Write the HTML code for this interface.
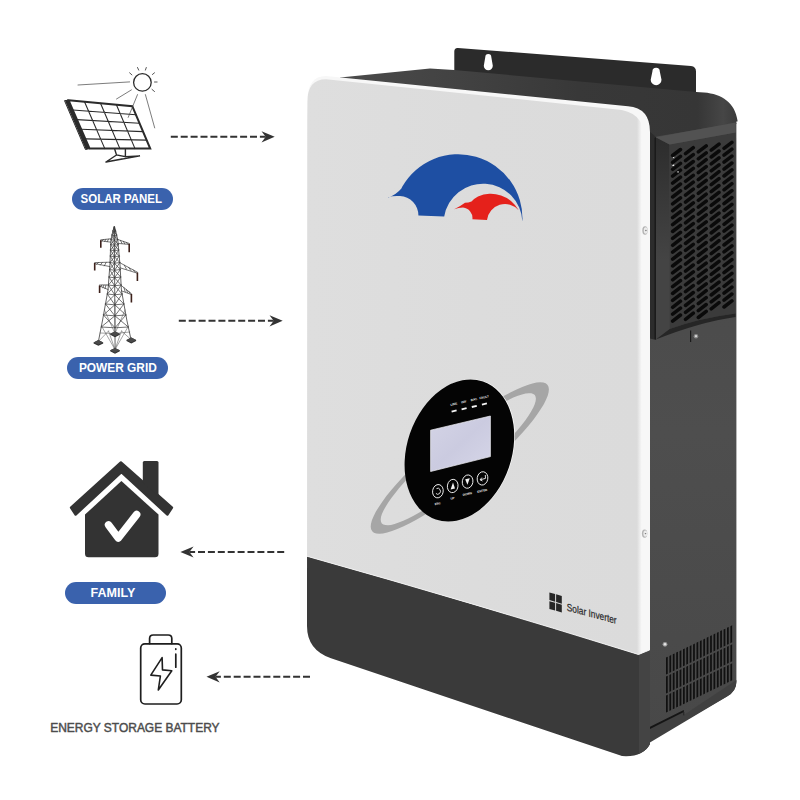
<!DOCTYPE html>
<html lang="en"><head><meta charset="utf-8"><title>Solar Inverter</title>
<style>
html,body{margin:0;padding:0;background:#fff;}
body{width:800px;height:800px;overflow:hidden;font-family:"Liberation Sans",sans-serif;}
svg{display:block;}
text{font-family:"Liberation Sans",sans-serif;}
</style></head><body>
<svg width="800" height="800" viewBox="0 0 800 800">
<defs>
<linearGradient id="gPanel" gradientUnits="userSpaceOnUse" x1="307" y1="0" x2="644" y2="0"><stop offset="0" stop-color="#dedede"/><stop offset="0.5" stop-color="#dcdcdc"/><stop offset="0.979" stop-color="#dbdbdb"/><stop offset="0.993" stop-color="#f7f7f7"/><stop offset="1" stop-color="#f7f7f7"/></linearGradient>
<linearGradient id="gSide" x1="0" y1="0" x2="0" y2="1"><stop offset="0" stop-color="#484848"/><stop offset="0.5" stop-color="#4e4e4e"/><stop offset="1" stop-color="#484848"/></linearGradient>
<linearGradient id="gTop" gradientUnits="userSpaceOnUse" x1="340" y1="0" x2="737" y2="0"><stop offset="0" stop-color="#4b4b4b"/><stop offset="0.3" stop-color="#424242"/><stop offset="0.6" stop-color="#383838"/><stop offset="0.9" stop-color="#363636"/><stop offset="0.965" stop-color="#464646"/><stop offset="1" stop-color="#3b3b3b"/></linearGradient>
<linearGradient id="gLeftFace" gradientUnits="userSpaceOnUse" x1="0" y1="140" x2="0" y2="260"><stop offset="0" stop-color="#2d2d2d"/><stop offset="1" stop-color="#444"/></linearGradient>
<linearGradient id="gLcd" x1="0" y1="0" x2="1" y2="1"><stop offset="0" stop-color="#d4d4e6"/><stop offset="0.5" stop-color="#cbcbe0"/><stop offset="1" stop-color="#d6d6e8"/></linearGradient>
<clipPath id="cFront"><path d="M307.3,101.5 Q307.3,76 326,76 L628,106.3 Q650,108 650,132 L650,744 Q643,757.5 622,756 L331,658.3 Q307,650 307,626 Z"/></clipPath>
</defs>
<rect width="800" height="800" fill="#fff"/>

<g id="inverter">
<path d="M454.3,51.5 Q454.3,47.6 458,47.9 L691,66 Q696,66.5 696,71.5 L696,96 L454.3,74 Z" fill="#2b2b2b"/>
<path d="M485.3,57.0 A3.0,3.0 0 0 1 491.3,57.0 L492.8,65.7 A4.5,4.5 0 0 1 483.8,65.7 Z" fill="#fff"/>
<path d="M652.4,71.5 A3.7,3.7 0 0 1 659.8000000000001,71.5 L661.5,79.8 A5.4,5.4 0 0 1 650.7,79.8 Z" fill="#fff"/>
<path d="M340,77.4 L430,68.5 L454,70 L696,92 L704,92.6 C722,94 735,103 737.5,120.5 L737.5,121.5 L736.4,121.6 L736.4,124 L653,139 L640,139 L620,120 L345,92 Z" fill="url(#gTop)"/>
<path d="M648,138 L736.4,123 L736.4,682 Q736.4,691 727,696.6 L648,742 Z" fill="url(#gSide)"/>
<path d="M648,130 L656,137 L656,340 L648,338 Z" fill="#2c2c2c"/>
<path d="M655.8,137.2 L669.6,144.6 L669.6,329 L655.8,339.5 Z" fill="url(#gLeftFace)"/>
<path d="M654.6,138 L655.8,137.2 L655.8,339.5 L654.6,339 Z" fill="#161616"/>
<path d="M669.6,144.6 L735.6,132.6 L735.6,313.5 Q700,318 669.6,329 Z" fill="#3b3b3b"/>
<path d="M655.8,137.2 L735.6,122.6 L735.6,132.6 L669.6,144.6 Z" fill="#525252"/>
<path d="M655.8,339.5 L669.6,329 Q700,318 735.6,313.5 L735.6,317 Q700,322 655.8,339.5 Z" fill="#262626"/>
<path d="M672.6,155.5 L680.5,149.5 M672.6,162.4 L680.5,156.4 M672.6,169.3 L680.5,163.3 M672.6,176.2 L680.5,170.2 M672.6,183.2 L680.5,177.1 M672.6,190.1 L680.5,184.0 M672.6,197.0 L680.5,190.9 M672.6,203.9 L680.5,197.8 M672.6,210.8 L680.5,204.7 M672.6,217.7 L680.5,211.6 M672.6,224.6 L680.5,218.5 M672.6,231.5 L680.5,225.4 M672.6,238.4 L680.5,232.3 M672.6,245.3 L680.5,239.2 M672.6,252.2 L680.5,246.1 M672.6,259.1 L680.5,253.0 M672.6,266.0 L680.5,259.9 M672.6,272.9 L680.5,266.8 M672.6,279.8 L680.5,273.7 M672.6,286.6 L680.5,280.6 M672.6,293.5 L680.5,287.4 M672.6,300.4 L680.5,294.3 M672.6,307.3 L680.5,301.2 M672.6,314.2 L680.5,308.1 M672.6,321.1 L680.5,315.0 M685.5,153.7 L693.3,147.7 M685.5,160.6 L693.3,154.6 M685.5,167.5 L693.3,161.5 M685.5,174.4 L693.3,168.4 M685.5,181.3 L693.3,175.3 M685.5,188.2 L693.3,182.2 M685.5,195.2 L693.3,189.1 M685.5,202.1 L693.3,196.0 M685.5,209.0 L693.3,202.9 M685.5,215.9 L693.3,209.8 M685.5,222.8 L693.3,216.7 M685.5,229.7 L693.3,223.6 M685.5,236.6 L693.3,230.5 M685.5,243.5 L693.3,237.4 M685.5,250.4 L693.3,244.3 M685.5,257.3 L693.3,251.2 M685.5,264.2 L693.3,258.1 M685.5,271.1 L693.3,265.0 M685.5,277.9 L693.3,271.9 M685.5,284.8 L693.3,278.8 M685.5,291.7 L693.3,285.6 M685.5,298.6 L693.3,292.5 M685.5,305.5 L693.3,299.4 M685.5,312.4 L693.3,306.3 M685.5,319.3 L693.3,313.2 M698.3,151.9 L706.2,145.9 M698.3,158.8 L706.2,152.8 M698.3,165.8 L706.2,159.7 M698.3,172.7 L706.2,166.6 M698.3,179.6 L706.2,173.5 M698.3,186.5 L706.2,180.4 M698.3,193.4 L706.2,187.3 M698.3,200.3 L706.2,194.2 M698.3,207.2 L706.2,201.1 M698.3,214.1 L706.2,208.0 M698.3,221.0 L706.2,214.9 M698.3,227.9 L706.2,221.8 M698.3,234.8 L706.2,228.7 M698.3,241.7 L706.2,235.6 M698.3,248.6 L706.2,242.5 M698.3,255.5 L706.2,249.4 M698.3,262.4 L706.2,256.3 M698.3,269.2 L706.2,263.2 M698.3,276.1 L706.2,270.1 M698.3,283.0 L706.2,276.9 M698.3,289.9 L706.2,283.8 M698.3,296.8 L706.2,290.7 M698.3,303.7 L706.2,297.6 M698.3,310.6 L706.2,304.5 M698.3,317.5 L706.2,311.4 M711.2,150.1 L719.0,144.1 M711.2,157.0 L719.0,151.0 M711.2,163.9 L719.0,157.9 M711.2,170.8 L719.0,164.8 M711.2,177.8 L719.0,171.7 M711.2,184.7 L719.0,178.6 M711.2,191.6 L719.0,185.5 M711.2,198.5 L719.0,192.4 M711.2,205.4 L719.0,199.3 M711.2,212.3 L719.0,206.2 M711.2,219.2 L719.0,213.1 M711.2,226.1 L719.0,220.0 M711.2,233.0 L719.0,226.9 M711.2,239.9 L719.0,233.8 M711.2,246.8 L719.0,240.7 M711.2,253.7 L719.0,247.6 M711.2,260.6 L719.0,254.5 M711.2,267.5 L719.0,261.4 M711.2,274.4 L719.0,268.3 M711.2,281.2 L719.0,275.2 M711.2,288.1 L719.0,282.1 M711.2,295.0 L719.0,288.9 M711.2,301.9 L719.0,295.8 M711.2,308.8 L719.0,302.7 M724.0,148.3 L731.9,142.3 M724.0,155.2 L731.9,149.2 M724.0,162.2 L731.9,156.1 M724.0,169.1 L731.9,163.0 M724.0,176.0 L731.9,169.9 M724.0,182.9 L731.9,176.8 M724.0,189.8 L731.9,183.7 M724.0,196.7 L731.9,190.6 M724.0,203.6 L731.9,197.5 M724.0,210.5 L731.9,204.4 M724.0,217.4 L731.9,211.3 M724.0,224.3 L731.9,218.2 M724.0,231.2 L731.9,225.1 M724.0,238.1 L731.9,232.0 M724.0,245.0 L731.9,238.9 M724.0,251.9 L731.9,245.8 M724.0,258.8 L731.9,252.7 M724.0,265.7 L731.9,259.6 M724.0,272.6 L731.9,266.5 M724.0,279.4 L731.9,273.4 M724.0,286.3 L731.9,280.2 M724.0,293.2 L731.9,287.1 M724.0,300.1 L731.9,294.0 M724.0,307.0 L731.9,300.9 " stroke="#0a0a0a" stroke-width="3.5" stroke-linecap="round" fill="none"/>
<path d="M672.6,157.6 l1.6,-0.8 l0,1.6 z M671.8,165.4 l2.4,-1.2 l0,2 z M676.6,172 l2,-1 l0,1.8 z" fill="#f4f4f4"/>
<path d="M690.6,330.5 L690.6,342" stroke="#1a1a1a" stroke-width="1.2"/>
<circle cx="696" cy="336.2" r="2.3" fill="#8a8a8a"/><circle cx="696" cy="336.2" r="1.1" fill="#d8d8d8"/>
<path d="M666.0,657.6 l1.75,-0.85 l0,17 l-1.75,0.85 Z M666.0,676.6 l1.75,-0.85 l0,17 l-1.75,0.85 Z M666.0,695.6 l1.75,-0.85 l0,17 l-1.75,0.85 Z M669.4,655.9 l1.75,-0.85 l0,17 l-1.75,0.85 Z M669.4,674.9 l1.75,-0.85 l0,17 l-1.75,0.85 Z M669.4,693.9 l1.75,-0.85 l0,17 l-1.75,0.85 Z M672.8,654.3 l1.75,-0.85 l0,17 l-1.75,0.85 Z M672.8,673.3 l1.75,-0.85 l0,17 l-1.75,0.85 Z M672.8,692.3 l1.75,-0.85 l0,17 l-1.75,0.85 Z M676.2,652.6 l1.75,-0.85 l0,17 l-1.75,0.85 Z M676.2,671.6 l1.75,-0.85 l0,17 l-1.75,0.85 Z M676.2,690.6 l1.75,-0.85 l0,17 l-1.75,0.85 Z M679.6,651.0 l1.75,-0.85 l0,17 l-1.75,0.85 Z M679.6,670.0 l1.75,-0.85 l0,17 l-1.75,0.85 Z M679.6,689.0 l1.75,-0.85 l0,17 l-1.75,0.85 Z M683.0,649.3 l1.75,-0.85 l0,17 l-1.75,0.85 Z M683.0,668.3 l1.75,-0.85 l0,17 l-1.75,0.85 Z M683.0,687.3 l1.75,-0.85 l0,17 l-1.75,0.85 Z M686.3,647.7 l1.75,-0.85 l0,17 l-1.75,0.85 Z M686.3,666.7 l1.75,-0.85 l0,17 l-1.75,0.85 Z M686.3,685.7 l1.75,-0.85 l0,17 l-1.75,0.85 Z M689.7,646.0 l1.75,-0.85 l0,17 l-1.75,0.85 Z M689.7,665.0 l1.75,-0.85 l0,17 l-1.75,0.85 Z M689.7,684.0 l1.75,-0.85 l0,17 l-1.75,0.85 Z M693.1,644.4 l1.75,-0.85 l0,17 l-1.75,0.85 Z M693.1,663.4 l1.75,-0.85 l0,17 l-1.75,0.85 Z M693.1,682.4 l1.75,-0.85 l0,17 l-1.75,0.85 Z M696.5,642.7 l1.75,-0.85 l0,17 l-1.75,0.85 Z M696.5,661.7 l1.75,-0.85 l0,17 l-1.75,0.85 Z M696.5,680.7 l1.75,-0.85 l0,17 l-1.75,0.85 Z M699.9,641.1 l1.75,-0.85 l0,17 l-1.75,0.85 Z M699.9,660.1 l1.75,-0.85 l0,17 l-1.75,0.85 Z M699.9,679.1 l1.75,-0.85 l0,17 l-1.75,0.85 Z M703.3,639.4 l1.75,-0.85 l0,17 l-1.75,0.85 Z M703.3,658.4 l1.75,-0.85 l0,17 l-1.75,0.85 Z M703.3,677.4 l1.75,-0.85 l0,17 l-1.75,0.85 Z M706.7,637.7 l1.75,-0.85 l0,17 l-1.75,0.85 Z M706.7,656.7 l1.75,-0.85 l0,17 l-1.75,0.85 Z M706.7,675.7 l1.75,-0.85 l0,17 l-1.75,0.85 Z M710.1,636.1 l1.75,-0.85 l0,17 l-1.75,0.85 Z M710.1,655.1 l1.75,-0.85 l0,17 l-1.75,0.85 Z M710.1,674.1 l1.75,-0.85 l0,17 l-1.75,0.85 Z M713.5,634.4 l1.75,-0.85 l0,17 l-1.75,0.85 Z M713.5,653.4 l1.75,-0.85 l0,17 l-1.75,0.85 Z M713.5,672.4 l1.75,-0.85 l0,17 l-1.75,0.85 Z M716.9,632.8 l1.75,-0.85 l0,17 l-1.75,0.85 Z M716.9,651.8 l1.75,-0.85 l0,17 l-1.75,0.85 Z M716.9,670.8 l1.75,-0.85 l0,17 l-1.75,0.85 Z M720.2,631.1 l1.75,-0.85 l0,17 l-1.75,0.85 Z M720.2,650.1 l1.75,-0.85 l0,17 l-1.75,0.85 Z M720.2,669.1 l1.75,-0.85 l0,17 l-1.75,0.85 Z M723.6,629.5 l1.75,-0.85 l0,17 l-1.75,0.85 Z M723.6,648.5 l1.75,-0.85 l0,17 l-1.75,0.85 Z M723.6,667.5 l1.75,-0.85 l0,17 l-1.75,0.85 Z M727.0,627.8 l1.75,-0.85 l0,17 l-1.75,0.85 Z M727.0,646.8 l1.75,-0.85 l0,17 l-1.75,0.85 Z M727.0,665.8 l1.75,-0.85 l0,17 l-1.75,0.85 Z M730.4,626.2 l1.75,-0.85 l0,17 l-1.75,0.85 Z M730.4,645.2 l1.75,-0.85 l0,17 l-1.75,0.85 Z M730.4,664.2 l1.75,-0.85 l0,17 l-1.75,0.85 Z " fill="#101010"/>
<circle cx="665" cy="644.3" r="2.4" fill="#9a9a9a"/><circle cx="665" cy="644.3" r="1.2" fill="#e6e6e6"/>
<path d="M648,728 L683.8,710.2 L683.8,715 L736.4,680 L736.4,682 Q736.4,691 727,696.6 L634,752 L648,742 Z" fill="#404040"/>
<path d="M648.6,727.6 L683.8,710 L683.8,712 L649,729.4 Z" fill="#151515"/>
<path d="M683.8,712 L683.8,715.4" stroke="#1c1c1c" stroke-width="0.8"/>
<g clip-path="url(#cFront)">
<rect x="300" y="545" width="360" height="230" fill="#3a3a3a"/>
<rect x="639" y="600" width="12" height="170" fill="#444"/>
<path d="M300,70 L660,70 L650,650 L638.5,654.5 Q470,602 307,556.25 L300,556 Z" fill="#f7f7f7"/>
<path d="M307.3,102 Q307.3,79.2 326,79.2 L615,109.2 Q644,111 644,137 L644,652.3 L638.5,654.5 Q470,602 307,556.25 L300,556 Z" fill="url(#gPanel)"/>
<path d="M307,556.25 Q470,602 638.5,654.5 L649.5,650" fill="none" stroke="#f4f4f4" stroke-width="0.9"/>
</g>
<ellipse cx="645" cy="230.5" rx="2.7" ry="4.2" fill="#b4b4b4"/><ellipse cx="645.7" cy="230.5" rx="1.9" ry="3.2" fill="#ececec"/><ellipse cx="645.9" cy="230.5" rx="0.8" ry="0.7" fill="#777"/>
<ellipse cx="644.6" cy="533.6" rx="2.7" ry="4.2" fill="#b4b4b4"/><ellipse cx="645.3000000000001" cy="533.6" rx="1.9" ry="3.2" fill="#ececec"/><ellipse cx="645.5" cy="533.6" rx="0.8" ry="0.7" fill="#777"/>
</g>
<g id="logo">
<path d="M388.4,197.5 Q396.5,194.2 401.4,188.4 L402.2,186.8 A64.3,64.3 0 0 1 522.4,221.5 A39.38,39.38 0 0 0 444.2,216.6 L418.4,215.5 A19.3,19.3 0 0 0 400,196.1 Q393.5,195.6 388,197.2 Z" fill="#1e4fa3"/>
<path d="M454.2,209.3 Q460,206.4 465,202.7 Q468.5,202.7 471.5,201.4 Q474,198.5 478,196.4 A31.9,31.9 0 0 1 518.7,210.2 A18.2,18.2 0 0 0 487,220 L472.4,219.3 A10.5,10.5 0 0 0 463,207.6 Q458.5,207.6 454.2,209.3 Z" fill="#e5211b"/>
</g>
<g id="display">
<path d="M547.4,384.7 L548.5,386.7 L548.9,389.2 L548.6,392.2 L547.7,395.8 L546.0,399.8 L543.8,404.2 L540.8,409.1 L537.3,414.3 L533.2,419.9 L528.5,425.7 L523.3,431.8 L517.6,438.1 L511.5,444.6 L505.0,451.1 L498.1,457.7 L490.9,464.3 L483.5,470.9 L476.0,477.3 L468.3,483.6 L460.5,489.8 L452.7,495.6 L445.0,501.2 L437.4,506.5 L430.0,511.4 L422.8,515.9 L415.9,519.9 L409.3,523.5 L403.1,526.5 L397.3,529.1 L392.0,531.1 L387.2,532.6 L383.0,533.4 L379.4,533.8 L376.3,533.5 L373.9,532.7 L372.2,531.3 L371.1,529.3 L370.7,526.8 L371.0,523.8 L371.9,520.2 L373.6,516.2 L375.8,511.8 L378.8,506.9 L382.3,501.7 L386.4,496.1 L391.1,490.3 L396.3,484.2 L402.0,477.9 L408.1,471.4 L414.6,464.9 L421.5,458.3 L428.7,451.7 L436.1,445.1 L443.6,438.7 L451.3,432.4 L459.1,426.2 L466.9,420.4 L474.6,414.8 L482.2,409.5 L489.6,404.6 L496.8,400.1 L503.7,396.1 L510.3,392.5 L516.5,389.5 L522.3,386.9 L527.6,384.9 L532.4,383.4 L536.6,382.6 L540.2,382.2 L543.3,382.5 L545.7,383.3 Z M534.8,395.0 L535.6,396.7 L535.9,398.8 L535.6,401.3 L534.7,404.3 L533.2,407.7 L531.1,411.5 L528.5,415.7 L525.4,420.2 L521.7,425.0 L517.6,430.1 L513.0,435.3 L508.0,440.8 L502.6,446.4 L496.9,452.1 L490.9,457.8 L484.6,463.6 L478.2,469.3 L471.5,475.0 L464.8,480.5 L458.1,485.9 L451.3,491.0 L444.6,496.0 L438.0,500.6 L431.5,504.9 L425.3,508.9 L419.3,512.5 L413.6,515.7 L408.2,518.5 L403.3,520.8 L398.7,522.6 L394.6,524.0 L391.0,524.9 L387.9,525.2 L385.3,525.1 L383.3,524.5 L381.8,523.4 L381.0,521.7 L380.7,519.6 L381.0,517.1 L381.9,514.1 L383.4,510.7 L385.5,506.9 L388.1,502.7 L391.2,498.2 L394.9,493.4 L399.0,488.3 L403.6,483.1 L408.6,477.6 L414.0,472.0 L419.7,466.3 L425.7,460.6 L432.0,454.8 L438.4,449.1 L445.1,443.4 L451.8,437.9 L458.5,432.5 L465.3,427.4 L472.0,422.4 L478.6,417.8 L485.1,413.5 L491.3,409.5 L497.3,405.9 L503.0,402.7 L508.4,399.9 L513.3,397.6 L517.9,395.8 L522.0,394.4 L525.6,393.5 L528.7,393.2 L531.3,393.3 L533.3,393.9 Z" fill="#a6a6a6" fill-rule="evenodd"/>
<ellipse cx="460.2" cy="450.3" rx="52.3" ry="72.9" transform="rotate(18.9 460.2 450.3)" fill="#fafafa"/>
<ellipse cx="459.4" cy="450.5" rx="52.3" ry="72.9" transform="rotate(18.9 459.4 450.5)" fill="#040404"/>
<path d="M430.6,430.2 L490.4,416 L490.4,456.6 L430.6,471.5 Z" fill="url(#gLcd)" stroke="#f0f0f6" stroke-width="0.7"/>
<text x="454.1" y="405.2" font-size="3.1" font-weight="bold" fill="#ededed" text-anchor="middle" transform="rotate(-13 454.1 405.2)">LINE</text>
<path d="M451.6,411.59999999999997 l5,-1.2" stroke="#f4f4f4" stroke-width="1.9" fill="none"/>
<text x="464.1" y="402.9" font-size="3.1" font-weight="bold" fill="#ededed" text-anchor="middle" transform="rotate(-13 464.1 402.9)">INV</text>
<path d="M461.6,409.29999999999995 l5,-1.2" stroke="#f4f4f4" stroke-width="1.9" fill="none"/>
<text x="474.3" y="400.6" font-size="3.1" font-weight="bold" fill="#ededed" text-anchor="middle" transform="rotate(-13 474.3 400.6)">BAT.</text>
<path d="M471.8,407.0 l5,-1.2" stroke="#f4f4f4" stroke-width="1.9" fill="none"/>
<text x="484.4" y="398.2" font-size="3.1" font-weight="bold" fill="#ededed" text-anchor="middle" transform="rotate(-13 484.4 398.2)">FAULT</text>
<path d="M481.9,404.59999999999997 l5,-1.2" stroke="#f4f4f4" stroke-width="1.9" fill="none"/>
<ellipse cx="437.9" cy="491.2" rx="5.3" ry="6.7" transform="rotate(10 437.9 491.2)" fill="none" stroke="#f6f6f6" stroke-width="0.9"/>
<path d="M436.5,488.59999999999997 a2.7,3 0 1 1 -0.6,4.8" fill="none" stroke="#f4f4f4" stroke-width="0.9"/>
<text x="437.9" y="504.59999999999997" font-size="3" font-weight="bold" fill="#ededed" text-anchor="middle" transform="rotate(-13 437.9 504.59999999999997)">ESC</text>
<ellipse cx="452.7" cy="486" rx="5.3" ry="6.7" transform="rotate(10 452.7 486)" fill="none" stroke="#f6f6f6" stroke-width="0.9"/>
<path d="M453.0,482.4 l2,6.2 l-4.4,0.8 z" fill="#f4f4f4"/>
<text x="452.7" y="499.4" font-size="3" font-weight="bold" fill="#ededed" text-anchor="middle" transform="rotate(-13 452.7 499.4)">UP</text>
<ellipse cx="467.6" cy="481.6" rx="5.3" ry="6.7" transform="rotate(10 467.6 481.6)" fill="none" stroke="#f6f6f6" stroke-width="0.9"/>
<path d="M467.40000000000003,484.8 l-2.2,-5.6 l4.6,-1 z" fill="#f4f4f4"/>
<text x="467.6" y="495.0" font-size="3" font-weight="bold" fill="#ededed" text-anchor="middle" transform="rotate(-13 467.6 495.0)">DOWN</text>
<ellipse cx="482.5" cy="478.4" rx="5.3" ry="6.7" transform="rotate(10 482.5 478.4)" fill="none" stroke="#f6f6f6" stroke-width="0.9"/>
<path d="M485.3,475.0 l0.2,3.4 l-5.4,1.4 m1.8,-2.2 l-1.8,2.2 l2.4,1.2" fill="none" stroke="#f4f4f4" stroke-width="0.9"/>
<text x="482.5" y="491.79999999999995" font-size="3" font-weight="bold" fill="#ededed" text-anchor="middle" transform="rotate(-13 482.5 491.79999999999995)">ENTER</text>
</g>
<g id="brand">
<g transform="translate(549.4,592.4) skewY(16)"><rect x="0" y="0" width="5.7" height="7.7" fill="#262626"/><rect x="6.7" y="0" width="5.7" height="7.7" fill="#262626"/><rect x="0" y="8.8" width="5.7" height="7.7" fill="#262626"/><rect x="6.7" y="8.8" width="5.7" height="7.7" fill="#262626"/></g>
<text transform="translate(566.8,610.6) skewY(15)" x="0" y="0" font-size="10.4" fill="#2c2c2c" stroke="#2c2c2c" stroke-width="0.25" textLength="49.8" lengthAdjust="spacingAndGlyphs">Solar Inverter</text>
</g>
<g id="arrows">
<path d="M170.8,136.8 L265.7,136.8" stroke="#333" stroke-width="1.9" stroke-dasharray="7 2.9" fill="none"/>
<path d="M274.7,136.8 L261.5,131.20000000000002 L265.7,136.8 L261.5,142.4 Z" fill="#333"/>
<path d="M178.8,320.8 L273.7,320.8" stroke="#333" stroke-width="1.9" stroke-dasharray="7 2.9" fill="none"/>
<path d="M282.7,320.8 L269.5,315.2 L273.7,320.8 L269.5,326.40000000000003 Z" fill="#333"/>
<path d="M284.2,552 L189.4,552" stroke="#333" stroke-width="1.9" stroke-dasharray="7 2.9" fill="none"/>
<path d="M180.4,552 L193.6,546.4 L189.4,552 L193.6,557.6 Z" fill="#333"/>
<path d="M310,676.8 L215.5,676.8" stroke="#333" stroke-width="1.9" stroke-dasharray="7 2.9" fill="none"/>
<path d="M206.5,676.8 L219.7,671.1999999999999 L215.5,676.8 L219.7,682.4 Z" fill="#333"/>
</g>
<g id="labels" font-weight="bold" font-size="13.5" fill="#fff">
<rect x="72" y="188" width="101" height="22" rx="11" fill="#3a62ad"/>
<text x="80.6" y="203.0" textLength="81.4" lengthAdjust="spacingAndGlyphs">SOLAR PANEL</text>
<rect x="67" y="357" width="101" height="22" rx="11" fill="#3a62ad"/>
<text x="78.9" y="372.0" textLength="77.9" lengthAdjust="spacingAndGlyphs">POWER GRID</text>
<rect x="65" y="582" width="101" height="22" rx="11" fill="#3a62ad"/>
<text x="90.6" y="597.0" textLength="44.8" lengthAdjust="spacingAndGlyphs">FAMILY</text>
</g>
<text x="50.2" y="732.2" font-size="12.2" fill="#4c4c4c" stroke="#4c4c4c" stroke-width="0.45" textLength="169.4" lengthAdjust="spacingAndGlyphs">ENERGY STORAGE BATTERY</text>
<g id="solar" stroke="#2b2b2b" fill="none" stroke-linecap="round">
<circle cx="142.4" cy="82.4" r="8.8" stroke-width="1.3"/>
<path d="M137.5,67.5 L138.7,70.1 M146.3,67.5 L145.4,70.1 M129.6,72.8 L131.9,74.9 M152.4,74.5 L154.5,72.8 M154.5,82.0 L157.1,82.0 M152.0,89.4 L154.5,91.5 " stroke-width="0.8"/>
<path d="M64.9,100.6 L68.6,100.3 L89.6,148.6 L85.8,149.4 Z" fill="#2b2b2b" stroke-width="1"/>
<path d="M68.6,100.3 L132.3,106.2 L150.2,148.6 L89.6,148.6 Z" stroke-width="2" stroke-linejoin="miter" fill="#fff"/>
<path d="M84.5,101.8 L104.8,148.6 M100.5,103.2 L119.9,148.6 M116.4,104.7 L135.0,148.6 M72.8,110.0 L135.9,114.7 M77.0,119.6 L139.5,123.2 M81.2,129.3 L143.0,131.6 M85.4,138.9 L146.6,140.1 " stroke-width="1.1"/>
<path d="M78,85 L129.6,81.9 M116.5,99 L131.4,89.9 M137.5,94.6 L128.2,117.4 M145.4,94.6 L154.7,127.9" stroke-width="0.7" stroke="#444"/>
<path d="M114.8,149.5 L116.5,155 L125.4,156.6 L125.4,149.5 M116.5,155 L106,162 L140,155.9 L125.4,156.6 M106,162 L122,158.9" stroke-width="1.4"/>
</g>
<g id="tower" fill="none" stroke-linecap="round">
<path d="M114.0,227 L114.3,231.8 M114.3,227.8 L112.9,231 M114.6,227 L114.3,231.8 M114.3,227.8 L115.7,231 M112.9,231 L114.3,231.8 L115.7,231 M112.9,231 L114.4,235.8 M114.3,231.8 L112.0,235 M115.7,231 L114.4,235.8 M114.3,231.8 L116.7,235 M112.0,235 L114.4,235.8 L116.7,235 M112.0,235 L114.4,240.3 M114.4,235.8 L111.0,239.5 M116.7,235 L114.4,240.3 M114.4,235.8 L117.7,239.5 M111.0,239.5 L114.4,240.3 L117.7,239.5 M111.0,239.5 L114.4,245.3 M114.4,240.3 L110.7,244.5 M117.7,239.5 L114.4,245.3 M114.4,240.3 L118.2,244.5 M110.7,244.5 L114.4,245.3 L118.2,244.5 M110.7,244.5 L114.4,250.8 M114.4,245.3 L110.5,250 M118.2,244.5 L114.4,250.8 M114.4,245.3 L118.7,250 M110.5,250 L114.4,250.8 L118.7,250 M110.5,250 L114.5,256.8 M114.4,250.8 L110.3,256 M118.7,250 L114.5,256.8 M114.4,250.8 L119.2,256 M110.3,256 L114.5,256.8 L119.2,256 M110.3,256 L114.5,263.3 M114.5,256.8 L110.0,262.5 M119.2,256 L114.5,263.3 M114.5,256.8 L119.8,262.5 M110.0,262.5 L114.5,263.3 L119.8,262.5 M110.0,262.5 L114.6,270.3 M114.5,263.3 L109.6,269.5 M119.8,262.5 L114.6,270.3 M114.5,263.3 L120.3,269.5 M109.6,269.5 L114.6,270.3 L120.3,269.5 M109.6,269.5 L114.6,277.8 M114.6,270.3 L109.0,277 M120.3,269.5 L114.6,277.8 M114.6,270.3 L120.7,277 M109.0,277 L114.6,277.8 L120.7,277 M109.0,277 L114.7,285.8 M114.6,277.8 L108.4,285 M120.7,277 L114.7,285.8 M114.6,277.8 L121.1,285 M108.4,285 L114.7,285.8 L121.1,285 M108.4,285 L114.7,294.8 M114.7,285.8 L107.3,294 M121.1,285 L114.7,294.8 M114.7,285.8 L122.1,294 M107.3,294 L114.7,294.8 L122.1,294 M107.3,294 L114.8,304.8 M114.7,294.8 L105.5,304 M122.1,294 L114.8,304.8 M114.7,294.8 L123.9,304 M105.5,304 L114.8,304.8 L123.9,304 M105.5,304 L114.9,315.8 M114.8,304.8 L103.5,315 M123.9,304 L114.9,315.8 M114.8,304.8 L125.9,315 M103.5,315 L114.9,315.8 L125.9,315 M103.5,315 L115.0,327.8 M114.9,315.8 L101.2,327 M125.9,315 L115.0,327.8 M114.9,315.8 L128.3,327 M101.2,327 L115.0,327.8 L128.3,327 " stroke="#444" stroke-width="0.75"/>
<path d="M114,227 L112.4,233 L110.9,240 L109.9,265 L108,290 L102.6,320 L98.4,341.5 M114.6,227 L116.2,233 L117.8,240 L120,265 L121.4,290 L126.8,320 L131,339.5 M114.3,226.4 L115.1,349.5" stroke="#3a3a3a" stroke-width="0.8"/>
<path d="M115,300 L115,333.5 M104.5,310 L115,333.5 L125,310 M101.5,326 L115,349.5 L128.5,326 M100.2,333 L115,333.5 L129.8,332 M108.5,331 L115,349.5 L121.5,331 M98.4,341.5 L108.5,331 M131,339.5 L121.5,331" stroke="#4a4a4a" stroke-width="0.5"/>
<path d="M111.0,238.8 L100.8,239.79999999999998 M111.0,242.2 L100.8,240.79999999999998 M117.6,239.4 L129.2,243.4 M117.6,243.39999999999998 L129.2,244.4 M108.5,239.1 L107.2,241.8 M120.5,240.4 L122.0,243.6 M105.9,239.3 L104.6,241.5 M123.4,241.4 L124.8,243.9 M103.3,239.5 L102.1,241.1 M126.3,242.4 L127.7,244.1 M110.0,262.2 L94.7,262.6 M110.0,266.6 L94.7,263.6 M120.0,262.8 L137.4,272.20000000000005 M120.0,267.8 L137.4,273.20000000000005 M106.2,262.3 L104.3,265.9 M124.3,265.2 L126.5,269.2 M102.3,262.4 L100.4,265.1 M128.7,267.5 L130.9,270.5 M98.5,262.5 L96.6,264.4 M133.1,269.9 L135.2,271.9 M108.2,285.0 L99.6,285.0 M108.2,289.6 L99.6,286.0 M121.4,285.6 L131.4,293.6 M121.4,290.8 L131.4,294.6 M106.0,285.0 L105.0,288.7 M123.9,287.6 L125.2,291.8 M103.9,285.0 L102.8,287.8 M126.4,289.6 L127.7,292.7 M101.8,285.0 L100.7,286.9 M128.9,291.6 L130.2,293.7 " stroke="#3a3a3a" stroke-width="0.7"/>
<path d="M100.8,240.2 L100.8,247.79999999999998 M129.2,243.8 L129.2,252.20000000000002 M94.7,263.0 L94.7,270.6 M137.4,272.6 L137.4,281.0 M99.6,285.4 L99.6,293.0 M131.4,294.0 L131.4,302.4 " stroke="#3d211b" stroke-width="1.6" stroke-linecap="butt"/>
<path d="M93.60000000000001,342.4 L98.4,340.0 L103.2,342.4 L103.2,343.4 L98.4,345.79999999999995 L93.60000000000001,343.4 Z" fill="#2e2e2e"/>
<path d="M93.60000000000001,342.4 L98.4,340.0 L103.2,342.4 L98.4,344.79999999999995 Z" fill="#4a4a4a"/>
<path d="M110.2,350.3 L115,347.90000000000003 L119.8,350.3 L119.8,351.3 L115,353.7 L110.2,351.3 Z" fill="#2e2e2e"/>
<path d="M110.2,350.3 L115,347.90000000000003 L119.8,350.3 L115,352.7 Z" fill="#4a4a4a"/>
<path d="M126.50000000000001,340 L131.3,337.6 L136.10000000000002,340 L136.10000000000002,341 L131.3,343.4 L126.50000000000001,341 Z" fill="#2e2e2e"/>
<path d="M126.50000000000001,340 L131.3,337.6 L136.10000000000002,340 L131.3,342.4 Z" fill="#4a4a4a"/>
<path d="M110.2,333.8 L115,331.40000000000003 L119.8,333.8 L119.8,334.8 L115,337.2 L110.2,334.8 Z" fill="#2e2e2e"/>
<path d="M110.2,333.8 L115,331.40000000000003 L119.8,333.8 L115,336.2 Z" fill="#4a4a4a"/>
</g>
<g id="house">
<path d="M121.4,481.1 L158.5,514.6 L158.5,553.8 Q158.5,557.3 155,557.3 L88.5,557.3 Q85,557.3 85,553.8 L85,514.6 Z" fill="#333"/>
<path d="M71,507.6 L120.9,462.4 L172,507.6 L167.4,514.6 L121.4,472 L75.6,514.6 Z" fill="#333" stroke="#333" stroke-width="2.4" stroke-linejoin="round"/>
<path d="M142.8,462.5 Q142.8,461 144.3,461 L157,461 Q158.5,461 158.5,462.5 L158.5,497 L142.8,482 Z" fill="#333"/>
<path d="M108.6,524.9 L118.3,538 L136.6,514.6" fill="none" stroke="#fff" stroke-width="7.6" stroke-linejoin="round" stroke-linecap="round"/>
</g>
<g id="battery" fill="none" stroke="#1e1e1e" stroke-width="1.7" stroke-linecap="round" stroke-linejoin="round">
<rect x="140.7" y="643.8" width="40.6" height="60.2" rx="4.2"/>
<path d="M149.6,643.6 L149.6,638.6 Q149.6,635 153.2,635 L168.2,635 Q171.8,635 171.8,638.6 L171.8,643.6"/>
<path d="M175.8,648.9 L175.8,649.3 M175.8,654.2 L175.8,667.2"/>
<path d="M162.1,657.6 L150.8,675.1 L160.4,676 L158.3,690 L171.8,670.8 L162.5,669.9 Z" stroke-width="1.6"/>
</g>
</svg></body></html>
